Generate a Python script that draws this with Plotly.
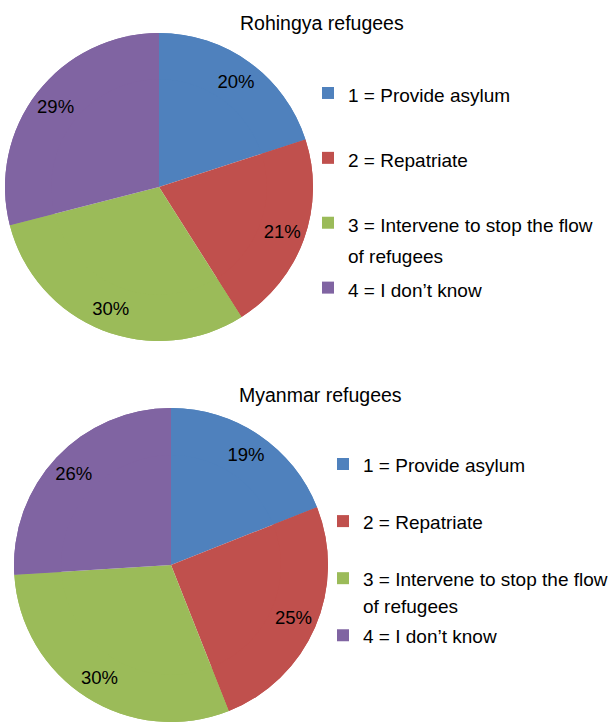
import plotly.graph_objects as go

categories = ["1 = Provide asylum", "2 = Repatriate",
              "3 = Intervene to stop the flow<br>of refugees", "4 = I don\u2019t know"]
rohingya_values = [20, 21, 30, 29]
myanmar_values = [19, 25, 30, 26]
titles = ["Rohingya refugees", "Myanmar refugees"]
colors = ["#4F81BD", "#C0504D", "#9BBB59", "#8064A2"]

W, H = 608, 727
FONT = "Liberation Sans, Arial, sans-serif"


def legend_labels(size):
    # each entry occupies two legend lines (text + blank line) to space them like the original
    out = []
    for c in categories:
        lines = c.split("<br>")
        body = "<br>".join('<span style="font-size:%s">%s</span>' % (size, l) for l in lines)
        out.append(body + "<br> " * (2 - len(lines)))
    return out


def dom(cx, cy, r):
    return dict(x=[(cx - r) / W, (cx + r) / W], y=[1 - (cy + r) / H, 1 - (cy - r) / H])


fig = go.Figure()
pies = [(rohingya_values, dom(159, 187, 154), "legend", legend_labels("19px")),
        (myanmar_values, dom(171, 565, 157), "legend2", legend_labels("19.0px"))]
for vals, d, lg, labs in pies:
    # solid pie (with legend)
    fig.add_trace(go.Pie(
        labels=labs, values=vals, sort=False, direction="clockwise", rotation=0,
        marker=dict(colors=colors, line=dict(width=0)),
        textinfo="none", domain=d, legend=lg, showlegend=True, hoverinfo="skip",
    ))
    # ring on top that carries the percentage labels near the rim
    fig.add_trace(go.Pie(
        labels=labs, values=vals, sort=False, direction="clockwise", rotation=0, hole=0.7,
        marker=dict(colors=colors, line=dict(width=0)),
        textinfo="percent", textposition="inside", insidetextorientation="horizontal",
        textfont=dict(family=FONT, size=18.5, color="black"),
        domain=d, legend=lg, showlegend=False, hoverinfo="percent",
    ))

legend_common = dict(valign="top", xanchor="left", yanchor="top", bgcolor="rgba(0,0,0,0)",
                     traceorder="normal", itemclick=False)
fig.update_layout(
    width=W, height=H, margin=dict(l=0, r=0, t=0, b=0, autoexpand=False),
    paper_bgcolor="white", plot_bgcolor="white",
    legend=dict(x=308 / W, y=1 - 71 / H, font=dict(family=FONT, size=23.8, color="black"),
                **legend_common),
    legend2=dict(x=323 / W, y=1 - 444 / H, font=dict(family=FONT, size=20.8, color="black"),
                 **legend_common),
    annotations=[
        dict(text=titles[0], x=322 / W, y=1 - 23 / H, xref="paper", yref="paper",
             xanchor="center", yanchor="middle", showarrow=False,
             font=dict(family=FONT, size=19.5, color="black")),
        dict(text=titles[1], x=320 / W, y=1 - 395 / H, xref="paper", yref="paper",
             xanchor="center", yanchor="middle", showarrow=False,
             font=dict(family=FONT, size=19.5, color="black")),
    ],
)
fig.write_html("out.html")
